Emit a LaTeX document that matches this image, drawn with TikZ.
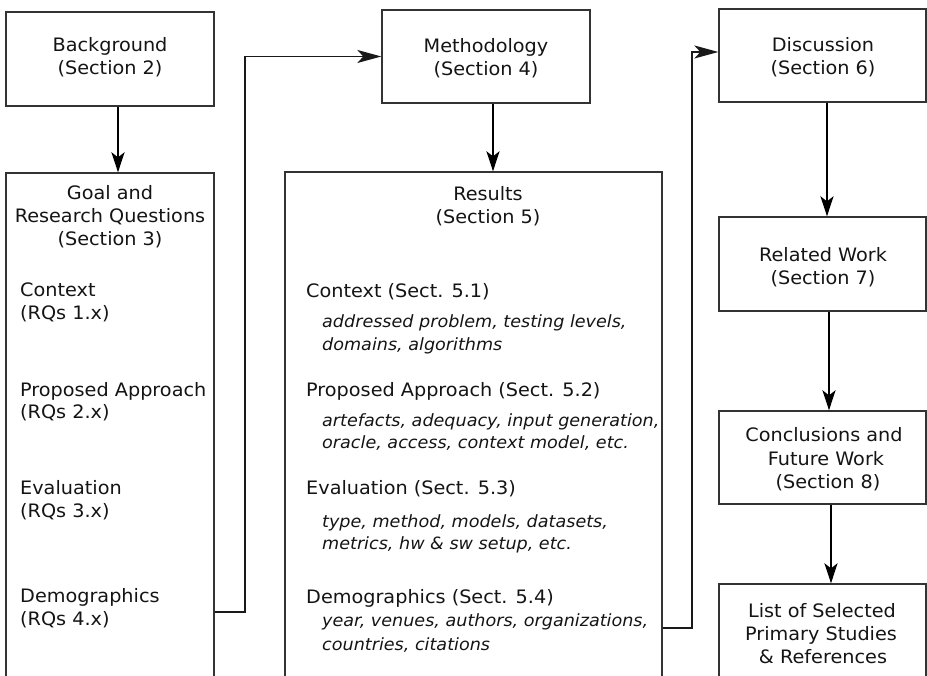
\documentclass[tikz,border=0pt]{standalone}
\usepackage{fontspec}
\setmainfont[FakeStretch=1.04]{DejaVu Sans}
\usetikzlibrary{arrows.meta}
\begin{document}
\begin{tikzpicture}[x=1pt,y=-1pt,
  box/.style={draw=black!80, line width=1.3pt, inner sep=0pt},
  txt/.style={anchor=base, inner sep=0pt, text=black!92, font=\fontsize{18.5}{22}\selectfont},
  ltxt/.style={anchor=base west, inner sep=0pt, text=black!92, font=\fontsize{18.5}{22}\selectfont},
  itxt/.style={anchor=base west, inner sep=0pt, text=black!92, font=\fontsize{16.9}{20}\selectfont\itshape},
  varrow/.style={-{Stealth[length=20pt,width=13pt,inset=5pt]}, line width=2.2pt, black},
  harrow/.style={-{Stealth[length=24pt,width=13pt,inset=6pt]}, line width=1.8pt, black!90},
]
\useasboundingbox (0,0) rectangle (927,676);
% boxes
\node[box, minimum width=208pt, minimum height=94pt] (bg) at (110,59) {};
\node[box, minimum width=208pt, minimum height=517pt] (goal) at (110,431.5) {};
\node[box, minimum width=208pt, minimum height=93pt] (meth) at (486,56.5) {};
\node[box, minimum width=377pt, minimum height=518pt] (res) at (473.5,431) {};
\node[box, minimum width=207pt, minimum height=93pt] (disc) at (822.5,55.5) {};
\node[box, minimum width=207pt, minimum height=94pt] (rel) at (822.5,264) {};
\node[box, minimum width=207pt, minimum height=93pt] (conc) at (822.5,457.5) {};
\node[box, minimum width=207pt, minimum height=106pt] (list) at (822.5,637) {};
% connector anchors
\coordinate (gy) at (0,612);
\coordinate (ry) at (0,628);
% arrows
\draw[varrow] ([xshift=8pt]bg.south) -- ([xshift=8pt]goal.north);
\draw[varrow] ([xshift=7pt]meth.south) -- ([xshift=7pt]meth.south |- res.north);
\draw[varrow] ([xshift=4.5pt]disc.south) -- ([xshift=4.5pt]rel.north);
\draw[varrow] ([xshift=6.5pt]rel.south) -- ([xshift=6.5pt]conc.north);
\draw[varrow] ([xshift=8.5pt]conc.south) -- ([xshift=8.5pt]list.north);
\draw[harrow] (goal.east |- gy) -- ++(30,0) |- (meth.west);
\draw[harrow] (res.east |- ry) -- ++(29,0) |- ([yshift=3.5pt]disc.west);
% left column text
\node[txt] (bgA) at (110,52) {Background};
\node[txt] (bgB) at (110,75) {(Section 2)};
\node[txt] (gA) at (110,200) {Goal and};
\node[txt] (gB) at (110,223) {Research Questions};
\node[txt] (gC) at (110,246) {(Section 3)};
\node[ltxt] (l1) at (20,297) {Context};
\node[ltxt] (l1b) at (20,320) {(RQs 1.x)};
\node[ltxt] (l2) at (20,396) {Proposed Approach};
\node[ltxt] (l2b) at (20,419) {(RQs 2.x)};
\node[ltxt] (l3) at (20,494) {Evaluation};
\node[ltxt] (l3b) at (20,517) {(RQs 3.x)};
\node[ltxt] (l4) at (20,602) {Demographics};
\node[ltxt] (l4b) at (20,625) {(RQs 4.x)};
% middle column text
\node[txt] (mA) at (486,53) {Methodology};
\node[txt] (mB) at (486,76) {(Section 4)};
\node[txt] (rA) at (488,201) {Results};
\node[txt] (rB) at (488,224) {(Section 5)};
\node[ltxt] (h1) at (306,298) {Context (Sect. 5.1)};
\node[itxt] (h1a) at (322,328) {addressed problem, testing levels,};
\node[itxt] (h1b) at (322,351) {domains, algorithms};
\node[ltxt] (h2) at (306,397) {Proposed Approach (Sect. 5.2)};
\node[itxt] (h2a) at (322,427) {artefacts, adequacy, input generation,};
\node[itxt] (h2b) at (322,449) {oracle, access, context model, etc.};
\node[ltxt] (h3) at (306,494) {Evaluation (Sect. 5.3)};
\node[itxt] (h3a) at (322,527) {type, method, models, datasets,};
\node[itxt] (h3b) at (322,549) {metrics, hw \& sw setup, etc.};
\node[ltxt] (h4) at (306,603) {Demographics (Sect. 5.4)};
\node[itxt] (h4a) at (322,626) {year, venues, authors, organizations,};
\node[itxt] (h4b) at (322,650) {countries, citations};
% right column text
\node[txt] (dA) at (823,52) {Discussion};
\node[txt] (dB) at (823,75) {(Section 6)};
\node[txt] (rwA) at (823,262) {Related Work};
\node[txt] (rwB) at (823,285) {(Section 7)};
\node[txt] (cA) at (824,442) {Conclusions and};
\node[txt] (cB) at (826,465) {Future Work};
\node[txt] (cC) at (828,488) {(Section 8)};
\node[txt] (lA) at (822,617) {List of Selected};
\node[txt] (lB) at (821,640) {Primary Studies};
\node[txt] (lC) at (823,663) {\& References};
\end{tikzpicture}
\end{document}
